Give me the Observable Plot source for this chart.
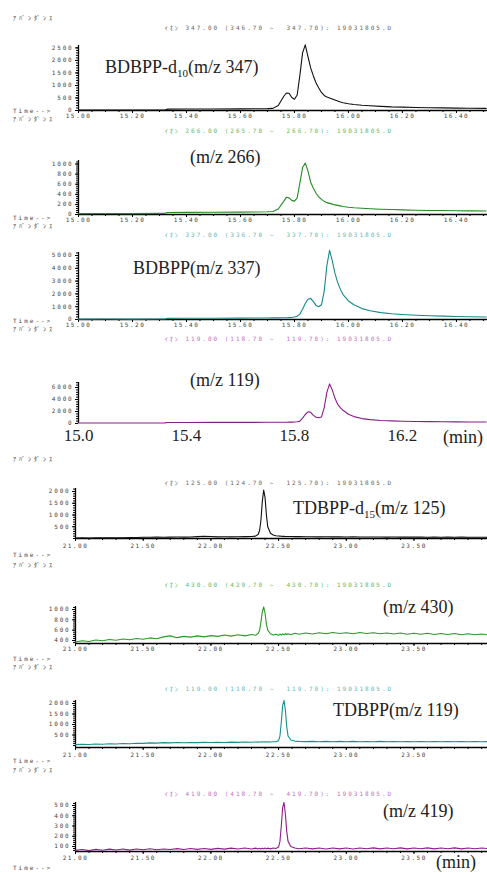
<!DOCTYPE html>
<html><head><meta charset="utf-8">
<script src="https://cdn.jsdelivr.net/npm/d3@7"></script>
<script src="https://cdn.jsdelivr.net/npm/@observablehq/plot@0.6"></script>
<style>
html,body{margin:0;padding:0;background:#fff;}
#wrap{position:relative;width:487px;height:873px;overflow:hidden;background:#fff;}
#wrap svg{position:absolute;left:0;}
.sm{position:absolute;font-family:"DejaVu Sans Mono","Noto Sans CJK JP",monospace;font-size:6px;letter-spacing:2px;white-space:pre;line-height:6px;color:#444;transform:translateY(-50%);z-index:2}
.ab{letter-spacing:3px}
.big{position:absolute;font-family:"Liberation Serif","Noto Sans CJK JP",serif;font-size:18px;white-space:pre;line-height:20px;color:#222;transform:translateY(-50%);z-index:2}
.big sub{font-size:11px;vertical-align:-4px;line-height:0}
</style></head><body><div id="wrap"></div>
<script>
// ---------- data: BDBPP group (min) ----------
const timesA = [15.00,15.10,15.20,15.30,15.32,15.33,15.40,15.50,15.60,15.65,15.70,15.72,15.74,15.76,15.77,15.78,15.79,15.80,15.81,15.82,15.83,15.84,15.85,15.86,15.87,15.88,15.89,15.90,15.91,15.92,15.93,15.94,15.95,15.96,15.97,15.98,16.00,16.02,16.05,16.08,16.12,16.16,16.20,16.25,16.30,16.35,16.40,16.45,16.51];
const bdbppD10_347 = [15,18,16,20,22,55,58,62,65,70,75,85,200,560,700,690,520,450,620,1400,2300,2620,2150,1700,1380,1100,900,720,600,540,500,460,420,380,340,310,270,240,210,190,165,145,135,120,110,105,95,90,85];
const bdbppD10_266 = [18,20,18,22,22,40,42,45,48,50,55,60,110,260,340,330,280,265,330,620,930,1020,860,640,520,420,350,300,260,235,220,205,190,180,170,160,145,135,125,115,105,98,92,85,80,78,75,72,70];
const bdbpp_337 = [30,35,30,35,40,90,95,100,110,115,120,125,130,135,140,150,160,190,260,420,800,1250,1580,1650,1400,1100,1000,1150,2200,4200,5400,4600,3600,2900,2350,1950,1450,1150,850,680,540,450,390,330,290,260,240,220,200];
const bdbpp_119 = [80,90,85,95,100,170,175,180,190,195,200,205,210,215,220,225,230,240,280,400,900,1500,1950,1850,1350,1050,950,1100,2600,5200,6600,5600,4200,3200,2650,2200,1550,1150,820,640,500,430,380,340,310,290,270,250,240];

// ---------- data: TDBPP group (min) ----------
const timesB = [21.00,21.05,21.10,21.15,21.20,21.25,21.30,21.35,21.40,21.45,21.50,21.55,21.60,21.65,21.70,21.75,21.80,21.85,21.90,21.95,22.00,22.05,22.10,22.15,22.20,22.25,22.30,22.33,22.35,22.36,22.37,22.38,22.39,22.40,22.41,22.42,22.44,22.46,22.48,22.50,22.51,22.52,22.53,22.54,22.55,22.56,22.57,22.59,22.62,22.65,22.70,22.75,22.80,22.85,22.90,22.95,23.00,23.05,23.10,23.15,23.20,23.25,23.30,23.35,23.40,23.45,23.50,23.55,23.60,23.65,23.70,23.75,23.80,23.85,23.90,23.95,24.00,24.04];
const tdbppD15_125 = [20,25,18,28,30,26,35,32,38,42,55,50,58,52,60,62,58,65,80,95,85,70,72,68,75,78,85,100,180,350,800,1600,2060,1750,1000,500,220,150,120,105,100,95,92,90,88,85,85,82,80,78,75,72,70,72,68,70,66,68,64,66,62,65,60,62,58,62,58,60,56,60,55,58,55,57,54,56,53,55];
const tdbppD15_430 = [370,395,380,410,395,420,405,430,415,440,425,450,435,470,490,455,480,465,490,470,495,480,505,485,510,490,515,500,540,600,760,960,1050,930,720,600,530,505,520,500,525,505,530,510,535,515,530,510,540,520,545,525,550,530,555,535,550,530,555,535,550,530,545,525,545,520,540,520,540,515,535,515,535,510,530,510,525,510];
const tdbpp_119 = [40,60,50,70,60,80,75,95,85,105,100,125,115,135,125,140,130,145,135,150,140,155,145,160,150,165,155,170,160,170,165,175,165,175,170,180,170,180,185,230,450,1100,1900,2150,1700,900,450,260,210,195,185,195,180,195,180,195,180,195,178,192,178,195,180,192,176,190,178,192,176,190,175,190,176,188,175,190,176,185];
const tdbpp_419 = [62,70,60,72,64,74,66,75,65,76,68,78,68,76,70,79,70,80,72,80,72,82,74,84,75,85,76,84,75,82,76,84,77,85,78,84,77,85,80,95,150,300,480,530,420,250,150,100,85,78,86,77,85,76,86,77,85,76,86,78,87,77,86,78,87,77,86,78,87,77,86,78,87,77,86,78,86,80];

// ---------- tick labels ----------
const xTicksA = [15.0,15.2,15.4,15.6,15.8,16.0,16.2,16.4];
const xTicksAbig = [15.0,15.4,15.8,16.2];
const xTicksB = [21.0,21.5,22.0,22.5,23.0,23.5];
const yTicks1 = [0,500,1000,1500,2000,2500];
const yTicks2 = [0,200,400,600,800,1000];
const yTicks3 = [0,1000,2000,3000,4000,5000];
const yTicks4 = [0,2000,4000,6000];
const yTicks5 = [500,1000,1500,2000];
const yTicks6 = [400,600,800,1000];
const yTicks7 = [500,1000,1500,2000];
const yTicks8 = [100,200,300,400,500];

const titles = [
  "ｲｵﾝ 347.00 (346.70 ~  347.70): 19031805.D",
  "ｲｵﾝ 266.00 (265.70 ~  266.70): 19031805.D",
  "ｲｵﾝ 337.00 (336.70 ~  337.70): 19031805.D",
  "ｲｵﾝ 119.00 (118.70 ~  119.70): 19031805.D",
  "ｲｵﾝ 125.00 (124.70 ~  125.70): 19031805.D",
  "ｲｵﾝ 430.00 (429.70 ~  430.70): 19031805.D",
  "ｲｵﾝ 119.00 (118.70 ~  119.70): 19031805.D",
  "ｲｵﾝ 419.00 (418.70 ~  419.70): 19031805.D"
];
const labels = [
  "BDBPP-d<sub>10</sub>(m/z 347)",
  "(m/z 266)",
  "BDBPP(m/z 337)",
  "(m/z 119)",
  "TDBPP-d<sub>15</sub>(m/z 125)",
  "(m/z 430)",
  "TDBPP(m/z 119)",
  "(m/z 419)"
];

// ---------- layout ----------
const W = 487;
const xDomA = [15.0, 16.515], xDomB = [21.0, 24.043];
const panels = [
  {t:timesA, v:bdbppD10_347, color:"#111", tc:"#666", xDom:xDomA, left:78, top:45, bottom:110, refA:[0,110], refB:[2500,47.4], yTicks:yTicks1, yMinor:100, xTicks:xTicksA, xMinor:0.05, fmt:".2f", xPad:0, abunY:18, timeY:111, titleY:28, lab:[105,67]},
  {t:timesA, v:bdbppD10_266, color:"#228b22", tc:"#5cb85c", xDom:xDomA, left:78, top:160, bottom:214, refA:[0,214], refB:[1000,163.5], yTicks:yTicks2, yMinor:40, xTicks:xTicksA, xMinor:0.05, fmt:".2f", xPad:0, abunY:119, timeY:218, titleY:131, lab:[190,157]},
  {t:timesA, v:bdbpp_337, color:"#138a8a", tc:"#5fb8b8", xDom:xDomA, left:78, top:252, bottom:319, refA:[0,319], refB:[5000,255], yTicks:yTicks3, yMinor:200, xTicks:xTicksA, xMinor:0.05, fmt:".2f", xPad:0, abunY:226, timeY:321, titleY:235, lab:[133,268]},
  {t:timesA, v:bdbpp_119, color:"#8b1c8b", tc:"#c070c0", xDom:xDomA, left:78, top:382, bottom:423, refA:[0,423], refB:[6000,387], yTicks:yTicks4, yMinor:400, bigX:true, abunY:329, timeY:null, titleY:339, lab:[190,380]},
  {t:timesB, v:tdbppD15_125, color:"#111", tc:"#666", xDom:xDomB, left:75, top:488, bottom:538, refA:[0,538], refB:[2000,491], yTicks:yTicks5, yMinor:100, xTicks:xTicksB, xMinor:0.1, fmt:".2f", xPad:2, abunY:459, timeY:555, titleY:483, lab:[293,508]},
  {t:timesB, v:tdbppD15_430, color:"#2a9a2a", tc:"#5cb85c", xDom:xDomB, left:75, top:606, bottom:643, refA:[400,640], refB:[1000,609], yTicks:yTicks6, yMinor:40, xTicks:xTicksB, xMinor:0.1, fmt:".2f", xPad:0, abunY:565, timeY:659, titleY:585, lab:[383,607]},
  {t:timesB, v:tdbpp_119, color:"#1a9090", tc:"#5fb8b8", xDom:xDomB, left:75, top:700, bottom:747, refA:[0,745], refB:[2000,703], yTicks:yTicks7, yMinor:100, xTicks:xTicksB, xMinor:0.1, fmt:".2f", xPad:2, abunY:667, timeY:761, titleY:689, lab:[333,710]},
  {t:timesB, v:tdbpp_419, color:"#8e1e8e", tc:"#c070c0", xDom:xDomB, left:75, top:802, bottom:851, refA:[100,846], refB:[500,805], yTicks:yTicks8, yMinor:20, xTicks:xTicksB, xMinor:0.1, fmt:".2f", xPad:1, abunY:770, timeY:868, titleY:794, lab:[383,811]}
];

const wrap = document.getElementById("wrap");
function addText(cls, html, x, y, color, center) {
  const d = document.createElement("div");
  d.className = cls;
  d.innerHTML = html;
  d.style.left = x + "px";
  d.style.top = y + "px";
  if (color) d.style.color = color;
  if (center) d.style.transform = "translate(-50%,-50%)";
  wrap.appendChild(d);
}

panels.forEach((p, i) => {
  const k = (p.refB[1] - p.refA[1]) / (p.refB[0] - p.refA[0]);
  const val = px => p.refA[0] + (px - p.refA[1]) / k;
  const yDom = [val(p.bottom), val(p.top)];
  const mt = 8, mb = p.bigX ? 34 : 16;
  const data = p.t.map((t, j) => ({t, v: p.v[j]}));
  const minorY = d3.range(Math.ceil(yDom[0] / p.yMinor) * p.yMinor, yDom[1] + 1e-9, p.yMinor);
  const marks = [
    Plot.axisY({ticks: minorY, tickSize: 2, tickFormat: () => "", stroke: "#000", label: null}),
    Plot.axisY({ticks: p.yTicks, tickSize: 3, tickPadding: 2, tickFormat: d => String(d), fill: "#444", stroke: "#000", label: null}),
    Plot.ruleX([p.xDom[0]], {stroke: "#000", strokeWidth: 1.3})
  ];
  if (p.bigX) {
    marks.push(Plot.axisX({ticks: xTicksAbig, tickSize: 0, tickPadding: 5, tickFormat: d3.format(".1f"), fontSize: 17, fontFamily: "Liberation Serif", fill: "#222", label: null}));
  } else {
    const minorX = d3.range(p.xDom[0], p.xDom[1], p.xMinor);
    marks.push(
      Plot.ruleY([yDom[0]], {stroke: "#000", strokeWidth: 1.5}),
      Plot.axisX({ticks: minorX, tickSize: 2, tickFormat: () => "", stroke: "#000", label: null}),
      Plot.axisX({ticks: p.xTicks, tickSize: 3, tickPadding: p.xPad, tickFormat: d3.format(p.fmt), fill: "#444", stroke: "#000", label: null})
    );
  }
  marks.push(Plot.line(data, {x: "t", y: "v", stroke: p.color, strokeWidth: 1.1}));
  const svg = Plot.plot({
    width: W,
    height: p.bottom - p.top + mt + mb,
    marginLeft: p.left, marginRight: 0, marginTop: mt, marginBottom: mb,
    x: {domain: p.xDom, axis: null, label: null},
    y: {domain: yDom, axis: null, label: null},
    style: {background: "transparent", overflow: "visible", fontFamily: "DejaVu Sans Mono", fontSize: "6px"},
    marks
  });
  svg.style.top = (p.top - mt) + "px";
  d3.select(svg).selectAll('g[aria-label="y-axis tick label"] text').style("letter-spacing", "1.8px");
  if (!p.bigX) d3.select(svg).selectAll('g[aria-label="x-axis tick label"] text').style("letter-spacing", "1.5px");
  wrap.appendChild(svg);

  addText("sm ab", "ｱﾊﾞﾝﾀﾞﾝｽ", 13, p.abunY);
  if (p.timeY !== null) addText("sm", "Time-->", 13, p.timeY);
  addText("sm", titles[i], 279, p.titleY, p.tc, true);
  addText("big", labels[i], p.lab[0], p.lab[1]);
});
addText("big", "(min)", 443, 437);
addText("big", "(min)", 436, 862);
</script></body></html>
